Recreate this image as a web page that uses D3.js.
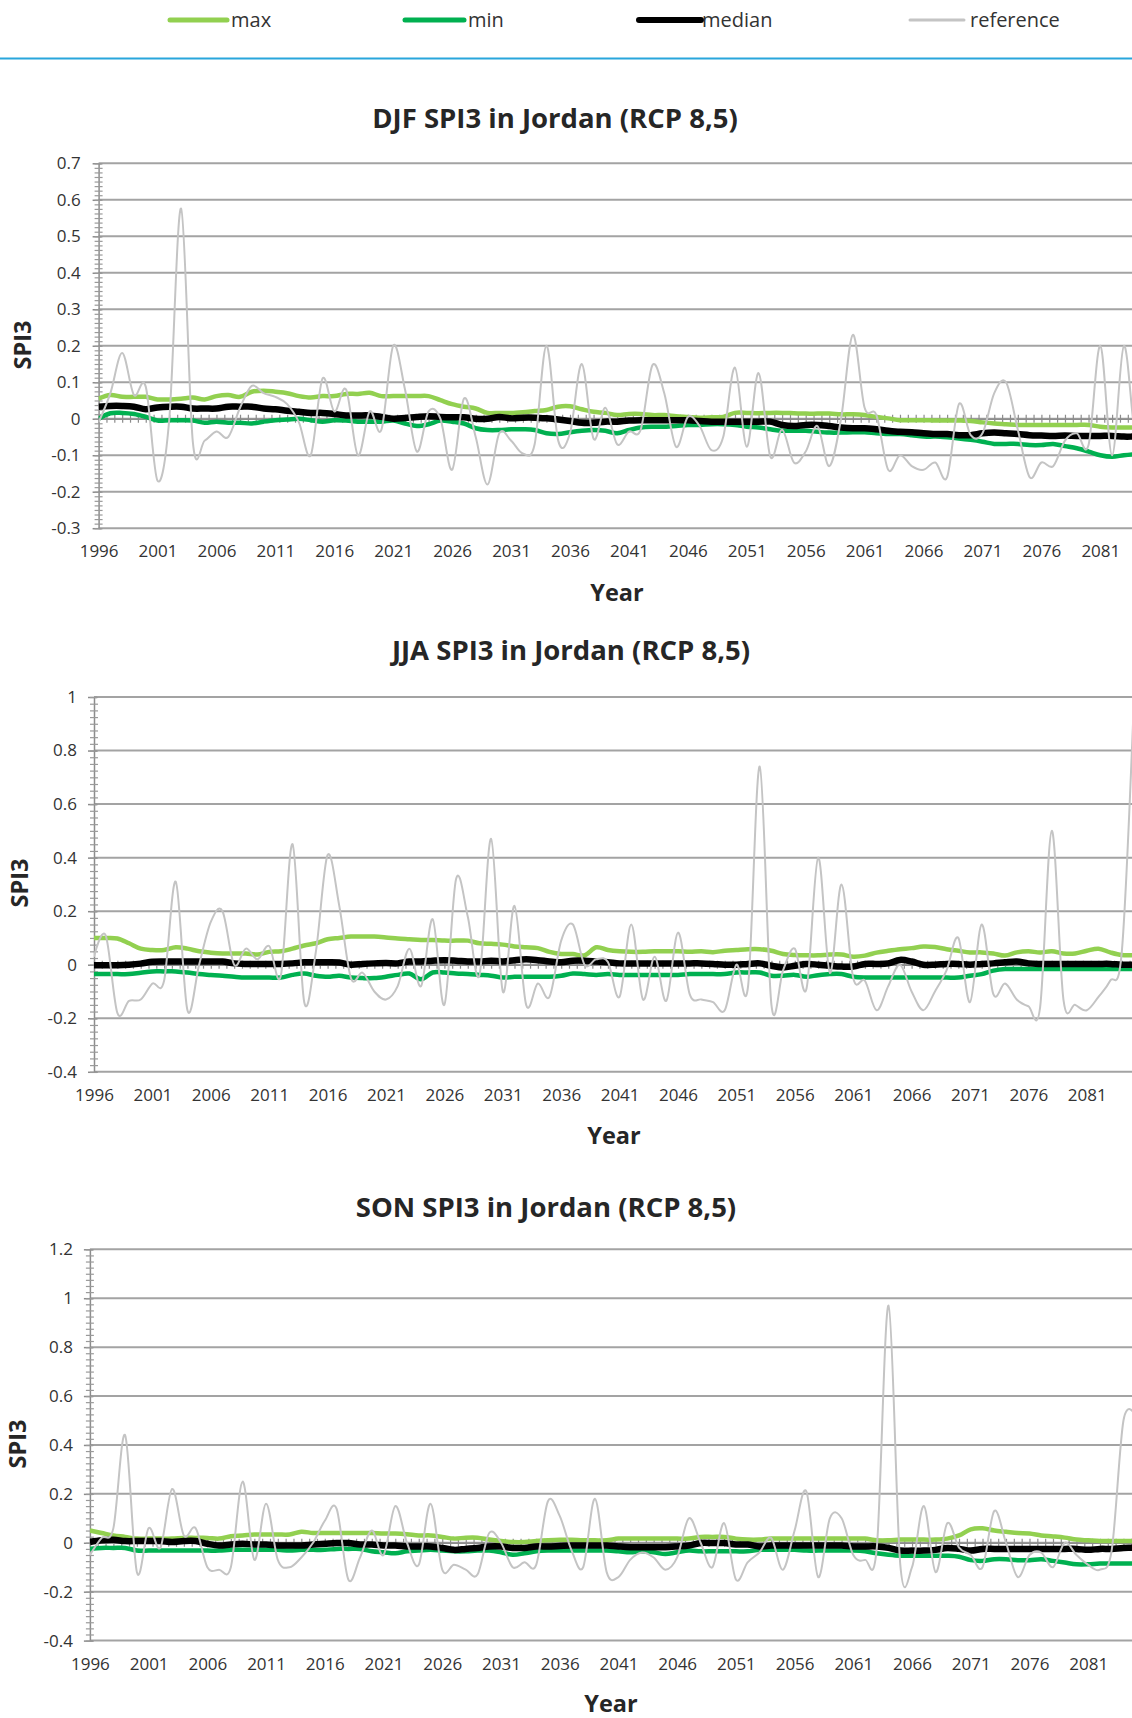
<!DOCTYPE html>
<html><head><meta charset="utf-8">
<script src="https://cdn.jsdelivr.net/npm/d3@7"></script>
<style>body{margin:0;background:#fff}svg{display:block}text{font-family:"Open Sans",Arial,sans-serif}</style>
</head><body>
<svg id="c" width="1132" height="1718"></svg>
<script>
// ---------------- DATA ----------------
const firstYear = 1996, lastYear = 2085;
const years = d3.range(firstYear, lastYear + 1);
const xTickYears = [1996,2001,2006,2011,2016,2021,2026,2031,2036,2041,2046,2051,2056,2061,2066,2071,2076,2081];
const seriesNames = ["max","min","median","reference"];
const djfYTicks = [-0.3,-0.2,-0.1,0,0.1,0.2,0.3,0.4,0.5,0.6,0.7];
const jjaYTicks = [-0.4,-0.2,0,0.2,0.4,0.6,0.8,1];
const sonYTicks = [-0.4,-0.2,0,0.2,0.4,0.6,0.8,1,1.2];

const djfMax = [0.055,0.065,0.06,0.06,0.06,0.053,0.053,0.055,0.058,0.053,
0.062,0.065,0.06,0.074,0.077,0.074,0.07,0.062,0.058,0.062,
0.062,0.068,0.068,0.071,0.062,0.062,0.062,0.062,0.062,0.051,
0.04,0.033,0.028,0.016,0.016,0.016,0.018,0.021,0.024,0.033,
0.034,0.026,0.019,0.016,0.01,0.013,0.013,0.01,0.01,0.007,
0.005,0.003,0.004,0.005,0.016,0.016,0.015,0.016,0.016,0.015,
0.014,0.014,0.014,0.012,0.012,0.01,0.005,0.001,-0.004,-0.004,
-0.004,-0.005,-0.005,-0.005,-0.006,-0.01,-0.013,-0.015,-0.017,-0.017,
-0.017,-0.017,-0.017,-0.017,-0.017,-0.022,-0.024,-0.024,-0.024,-0.024];
const djfMin = [0,0.015,0.016,0.013,0.005,-0.005,-0.004,-0.004,-0.005,-0.011,
-0.008,-0.011,-0.011,-0.013,-0.008,-0.004,-0.002,0,-0.004,-0.008,
-0.004,-0.005,-0.008,-0.008,-0.008,-0.005,-0.013,-0.02,-0.015,-0.005,
-0.008,-0.013,-0.026,-0.031,-0.031,-0.029,-0.029,-0.031,-0.04,-0.042,
-0.037,-0.033,-0.031,-0.033,-0.04,-0.031,-0.024,-0.022,-0.022,-0.02,
-0.017,-0.017,-0.015,-0.015,-0.017,-0.022,-0.024,-0.029,-0.033,-0.033,
-0.033,-0.036,-0.038,-0.038,-0.037,-0.037,-0.04,-0.042,-0.042,-0.045,
-0.049,-0.049,-0.051,-0.054,-0.058,-0.063,-0.069,-0.069,-0.069,-0.072,
-0.072,-0.069,-0.075,-0.081,-0.09,-0.1,-0.104,-0.1,-0.097,-0.095];
const djfMedian = [0.033,0.035,0.035,0.033,0.026,0.031,0.033,0.033,0.028,0.028,
0.028,0.033,0.033,0.033,0.028,0.026,0.022,0.019,0.016,0.016,
0.013,0.009,0.009,0.009,0.005,0,0.002,0.005,0.007,0.005,
0.004,0.004,0,0,0.005,0.001,0.003,0.003,0.001,-0.002,
-0.006,-0.011,-0.011,-0.008,-0.008,-0.005,-0.004,-0.004,-0.004,-0.004,
-0.004,-0.006,-0.008,-0.008,-0.008,-0.008,-0.008,-0.008,-0.017,-0.02,
-0.017,-0.017,-0.02,-0.024,-0.026,-0.026,-0.029,-0.033,-0.036,-0.037,
-0.04,-0.042,-0.042,-0.045,-0.045,-0.04,-0.038,-0.04,-0.042,-0.045,
-0.046,-0.047,-0.046,-0.047,-0.047,-0.047,-0.047,-0.049,-0.049,-0.05];
const djfRef = [-0.01,0.07,0.18,0.065,0.088,-0.17,0.0,0.576,-0.065,-0.06,
-0.035,-0.05,0.03,0.09,0.07,0.06,0.04,-0.01,-0.1,0.11,
0.02,0.08,-0.1,0.02,-0.03,0.2,0.08,-0.09,0.02,0.0,
-0.14,0.055,-0.05,-0.18,-0.04,-0.06,-0.095,-0.07,0.2,-0.06,
-0.04,0.15,-0.055,0.03,-0.07,-0.035,-0.03,0.147,0.07,-0.077,
0.005,-0.02,-0.086,-0.05,0.14,-0.077,0.125,-0.104,-0.03,-0.12,
-0.09,-0.02,-0.13,0.0,0.23,0.03,0.01,-0.14,-0.1,-0.13,
-0.14,-0.12,-0.16,0.04,-0.045,-0.04,0.07,0.1,-0.03,-0.16,
-0.12,-0.13,-0.06,-0.04,-0.072,0.2,-0.1,0.2,-0.05,0.0];

const jjaMax = [0.1,0.1,0.098,0.08,0.06,0.055,0.055,0.065,0.06,0.05,
0.045,0.042,0.042,0.042,0.038,0.048,0.05,0.06,0.072,0.08,
0.095,0.1,0.105,0.105,0.105,0.102,0.098,0.095,0.092,0.092,
0.09,0.09,0.09,0.08,0.078,0.075,0.068,0.065,0.062,0.048,
0.04,0.04,0.035,0.065,0.055,0.05,0.048,0.048,0.05,0.05,
0.05,0.048,0.05,0.047,0.052,0.055,0.058,0.058,0.052,0.04,
0.036,0.035,0.035,0.038,0.038,0.03,0.034,0.045,0.052,0.058,
0.062,0.068,0.066,0.058,0.052,0.046,0.046,0.042,0.034,0.046,
0.05,0.046,0.05,0.042,0.042,0.052,0.06,0.046,0.036,0.036];
const jjaMin = [-0.035,-0.035,-0.035,-0.035,-0.03,-0.025,-0.025,-0.025,-0.029,-0.035,
-0.038,-0.041,-0.045,-0.048,-0.048,-0.048,-0.048,-0.038,-0.033,-0.041,
-0.045,-0.041,-0.048,-0.05,-0.05,-0.045,-0.038,-0.033,-0.054,-0.029,
-0.029,-0.033,-0.035,-0.038,-0.041,-0.048,-0.045,-0.045,-0.045,-0.045,
-0.041,-0.033,-0.035,-0.038,-0.035,-0.038,-0.038,-0.038,-0.038,-0.038,
-0.038,-0.035,-0.035,-0.035,-0.035,-0.029,-0.029,-0.029,-0.041,-0.041,
-0.038,-0.045,-0.039,-0.035,-0.035,-0.045,-0.048,-0.048,-0.048,-0.048,
-0.048,-0.048,-0.048,-0.048,-0.048,-0.041,-0.035,-0.022,-0.016,-0.016,
-0.016,-0.016,-0.016,-0.016,-0.016,-0.016,-0.016,-0.016,-0.016,-0.016];
const jjaMedian = [-0.002,-0.002,-0.002,0,0.004,0.011,0.012,0.012,0.012,0.012,
0.012,0.012,0.005,0.003,0.003,0.003,0.003,0.005,0.009,0.009,
0.009,0.008,0,0.003,0.005,0.006,0.005,0.012,0.012,0.015,
0.017,0.015,0.012,0.012,0.015,0.012,0.017,0.02,0.017,0.012,
0.009,0.015,0.015,0.012,0.009,0.005,0.005,0.005,0.005,0.005,
0.005,0.005,0.005,0.003,0,0,0.003,0.005,-0.004,-0.01,
-0.004,0.003,0,-0.004,-0.007,-0.007,0.003,0.003,0.005,0.018,
0.012,0,0,0.003,0.003,0,0.003,0.005,0.009,0.012,
0.005,0.003,0.003,0.003,0.003,0.003,0.003,0.003,0,0];
const jjaRef = [0.03,0.11,-0.18,-0.135,-0.13,-0.07,-0.06,0.31,-0.17,0.0,
0.16,0.2,0.0,0.06,0.02,0.07,-0.04,0.45,-0.14,0.05,
0.41,0.22,-0.05,-0.03,-0.1,-0.13,-0.08,0.06,-0.08,0.17,
-0.15,0.32,0.18,-0.04,0.47,-0.1,0.22,-0.15,-0.07,-0.12,
0.09,0.15,0.0,0.02,0.01,-0.12,0.15,-0.13,0.03,-0.135,
0.12,-0.11,-0.13,-0.14,-0.17,0.0,-0.08,0.74,-0.15,-0.02,
0.06,-0.09,0.4,-0.03,0.3,-0.05,-0.06,-0.17,-0.08,0.0,
-0.1,-0.17,-0.1,-0.02,0.1,-0.14,0.15,-0.11,-0.07,-0.13,
-0.155,-0.16,0.5,-0.13,-0.15,-0.17,-0.12,-0.06,0.05,0.95];

const sonMax = [0.05,0.04,0.03,0.024,0.017,0.017,0.017,0.017,0.02,0.02,
0.02,0.017,0.027,0.03,0.034,0.034,0.034,0.034,0.045,0.04,
0.04,0.04,0.04,0.04,0.04,0.038,0.038,0.035,0.03,0.03,
0.024,0.017,0.021,0.021,0.013,0.007,0.003,0.003,0.007,0.01,
0.012,0.012,0.01,0.01,0.01,0.017,0.017,0.017,0.017,0.017,
0.017,0.017,0.024,0.024,0.024,0.017,0.013,0.013,0.017,0.017,
0.017,0.017,0.017,0.017,0.017,0.017,0.017,0.01,0.01,0.013,
0.013,0.013,0.013,0.017,0.03,0.055,0.059,0.05,0.045,0.04,
0.038,0.03,0.026,0.021,0.013,0.01,0.007,0.007,0.007,0.007];
const sonMin = [-0.025,-0.021,-0.021,-0.021,-0.032,-0.032,-0.032,-0.032,-0.032,-0.032,
-0.032,-0.032,-0.029,-0.029,-0.029,-0.029,-0.029,-0.032,-0.029,-0.029,
-0.029,-0.025,-0.025,-0.025,-0.035,-0.039,-0.043,-0.035,-0.032,-0.029,
-0.032,-0.035,-0.035,-0.032,-0.032,-0.039,-0.049,-0.043,-0.035,-0.032,
-0.032,-0.032,-0.032,-0.032,-0.032,-0.035,-0.039,-0.035,-0.039,-0.046,
-0.039,-0.032,-0.035,-0.035,-0.035,-0.035,-0.035,-0.029,-0.029,-0.029,
-0.029,-0.032,-0.032,-0.032,-0.032,-0.032,-0.035,-0.043,-0.049,-0.053,
-0.053,-0.053,-0.053,-0.053,-0.057,-0.071,-0.074,-0.067,-0.067,-0.071,
-0.071,-0.067,-0.074,-0.081,-0.088,-0.088,-0.085,-0.085,-0.085,-0.085];
const sonMedian = [0.003,0.01,0.012,0.007,0.007,0.007,0.007,0.003,0.007,0.007,
-0.004,-0.011,-0.007,-0.004,-0.007,-0.007,-0.011,-0.011,-0.011,-0.007,
-0.004,-0.001,-0.001,-0.007,-0.007,-0.011,-0.011,-0.015,-0.015,-0.015,
-0.021,-0.029,-0.025,-0.021,-0.015,-0.015,-0.021,-0.021,-0.015,-0.015,
-0.013,-0.011,-0.011,-0.011,-0.011,-0.015,-0.018,-0.018,-0.018,-0.018,
-0.015,-0.011,-0.001,-0.001,-0.001,-0.007,-0.007,-0.015,-0.011,-0.011,
-0.011,-0.011,-0.011,-0.011,-0.011,-0.015,-0.015,-0.015,-0.021,-0.032,
-0.032,-0.032,-0.029,-0.021,-0.025,-0.032,-0.025,-0.025,-0.025,-0.025,
-0.025,-0.025,-0.025,-0.025,-0.025,-0.029,-0.025,-0.025,-0.021,-0.021];
const sonRef = [-0.05,0.02,0.06,0.44,-0.12,0.06,-0.02,0.22,0.03,0.06,
-0.1,-0.11,-0.1,0.25,-0.07,0.16,-0.07,-0.1,-0.06,0.0,
0.09,0.14,-0.15,-0.06,0.05,-0.05,0.15,0.0,-0.09,0.16,
-0.11,-0.09,-0.11,-0.13,0.04,0.0,-0.1,-0.08,-0.09,0.17,
0.11,-0.03,-0.1,0.18,-0.12,-0.14,-0.07,-0.04,-0.06,-0.11,
-0.06,0.1,0.0,-0.1,0.08,-0.15,-0.08,-0.04,0.02,-0.11,
0.05,0.21,-0.14,0.1,0.1,-0.05,-0.07,-0.02,0.97,-0.09,
-0.1,0.15,-0.12,0.08,-0.02,-0.05,-0.1,0.13,0.0,-0.14,
-0.05,-0.04,-0.1,0.0,-0.05,-0.09,-0.11,-0.03,0.5,0.52];

// ---------------- STYLE / LAYOUT ----------------
const colors = {max:"#92d050", min:"#00b050", median:"#000000", reference:"#c4c4c4"};
const widths = {max:4.5, min:4.5, median:6.5, reference:2};
const W = 1132;
const svg = d3.select("#c");

// legend
const legendLayout = [
  {x1:170,x2:227,tx:231},{x1:405,x2:464,tx:468},{x1:639,x2:701,tx:702},{x1:910,x2:964,tx:970}];
const lg = svg.append("g");
seriesNames.forEach((n,i)=>{
  const L = legendLayout[i];
  lg.append("line").attr("x1",L.x1).attr("x2",L.x2).attr("y1",20).attr("y2",20)
    .attr("stroke",colors[n]).attr("stroke-width", n==="reference"?3:(n==="median"?6:5)).attr("stroke-linecap","round");
  lg.append("text").attr("x",L.tx).attr("y",20).attr("dy","0.35em").attr("font-size",20).attr("fill","#333").text(n);
});
svg.append("line").attr("x1",0).attr("x2",W).attr("y1",58.5).attr("y2",58.5).attr("stroke","#29a6dc").attr("stroke-width",2);

const fmt = d => String(Math.round(d*10)/10);

function drawChart(cfg, idx){
  const g = svg.append("g");
  const x = d3.scaleLinear().domain([1996, 2100]).range([cfg.left, cfg.left + 104*cfg.step]);
  const y = d3.scaleLinear().domain([cfg.yTicks[0], cfg.yTicks[cfg.yTicks.length-1]]).range([cfg.bottom, cfg.top]);
  // gridlines
  g.append("g").selectAll("line").data(cfg.yTicks).join("line")
    .attr("x1", cfg.left).attr("x2", W+5).attr("y1", d=>y(d)).attr("y2", d=>y(d))
    .attr("stroke","#a3a3a3").attr("stroke-width",2);
  // y axis with major ticks
  const ya = g.append("g").attr("transform",`translate(${cfg.left},0)`)
    .call(d3.axisLeft(y).tickValues(cfg.yTicks).tickFormat(fmt).tickSizeInner(6).tickSizeOuter(0).tickPadding(cfg.ypad));
  ya.select(".domain").attr("stroke","#8c8c8c").attr("stroke-width",1.5);
  ya.selectAll(".tick line").attr("stroke","#8c8c8c").attr("stroke-width",1.5).attr("x2",-6).attr("x1",3);
  ya.selectAll(".tick text").attr("font-size",17).attr("fill","#333").attr("font-family","Open Sans");
  // minor y ticks
  const minor = d3.range(cfg.yTicks[0], cfg.yTicks[cfg.yTicks.length-1]+1e-9, cfg.minorStep);
  const ym = g.append("g").attr("transform",`translate(${cfg.left},0)`)
    .call(d3.axisLeft(y).tickValues(minor).tickFormat("").tickSizeInner(4).tickSizeOuter(0));
  ym.select(".domain").remove();
  ym.selectAll(".tick line").attr("stroke","#9a9a9a").attr("stroke-width",1.2).attr("x1",4).attr("x2",-4);
  // x axis at zero with cross ticks
  const xMinor = d3.range(1996, 2100, 2/3);
  const xa = g.append("g").attr("transform",`translate(0,${y(0)})`)
    .call(d3.axisBottom(x).tickValues(xMinor).tickFormat("").tickSizeInner(4).tickSizeOuter(0));
  xa.select(".domain").attr("stroke","#8c8c8c").attr("stroke-width",1.5);
  xa.selectAll(".tick line").attr("stroke","#8c8c8c").attr("stroke-width",1.2).attr("y1",-4).attr("y2",4);
  // x labels at bottom
  const xl = g.append("g").attr("transform",`translate(0,${cfg.bottom})`)
    .call(d3.axisBottom(x).tickValues(xTickYears).tickFormat(d3.format("d")).tickSize(0).tickPadding(cfg.xpad));
  xl.select(".domain").remove();
  xl.selectAll(".tick text").attr("font-size",17).attr("fill","#333").attr("font-family","Open Sans");
  // clip
  const cid = "clip"+idx;
  svg.append("clipPath").attr("id",cid).append("rect")
    .attr("x",cfg.left).attr("y",cfg.top-2).attr("width",W-cfg.left).attr("height",cfg.bottom-cfg.top+4);
  const line = d3.line().x((d,i)=>x(years[i])).y(d=>y(d)).curve(d3.curveCardinal.tension(0));
  const lines = g.append("g").attr("clip-path",`url(#${cid})`);
  seriesNames.forEach(n=>{
    lines.append("path").datum(cfg.data[n]).attr("d",line).attr("fill","none")
      .attr("stroke",colors[n]).attr("stroke-width",widths[n]).attr("stroke-linejoin","round");
  });
  // titles
  g.append("text").attr("x",cfg.titleX).attr("y",cfg.titleY).attr("dy","0.35em").attr("text-anchor","middle")
    .attr("font-size",27.5).attr("font-weight","bold").attr("fill","#262626").text(cfg.title);
  g.append("text").attr("transform",`translate(${cfg.yLabelX},${cfg.yLabelY}) rotate(-90)`).attr("dy","0.35em")
    .attr("text-anchor","middle").attr("font-size",23.5).attr("font-weight","bold").attr("fill","#262626").text("SPI3");
  g.append("text").attr("x",cfg.xTitleX).attr("y",cfg.xTitleY).attr("dy","0.35em").attr("text-anchor","middle")
    .attr("font-size",23.5).attr("font-weight","bold").attr("fill","#262626").text("Year");
}

const charts = [
  {title:"DJF SPI3 in Jordan (RCP 8,5)", titleX:555, titleY:118, left:98.6, step:11.785, top:163.3, bottom:528.2,
   yTicks:djfYTicks, minorStep:0.0125, ypad:12, xpad:17, yLabelX:23, yLabelY:345, xTitleX:617, xTitleY:593,
   data:{max:djfMax,min:djfMin,median:djfMedian,reference:djfRef}},
  {title:"JJA SPI3 in Jordan (RCP 8,5)", titleX:571, titleY:650, left:94, step:11.68, top:697, bottom:1071.8,
   yTicks:jjaYTicks, minorStep:0.025, ypad:11, xpad:17, yLabelX:20, yLabelY:883, xTitleX:614, xTitleY:1136,
   data:{max:jjaMax,min:jjaMin,median:jjaMedian,reference:jjaRef}},
  {title:"SON SPI3 in Jordan (RCP 8,5)", titleX:546, titleY:1207, left:89.9, step:11.745, top:1249.3, bottom:1640.6,
   yTicks:sonYTicks, minorStep:0.025, ypad:11, xpad:17, yLabelX:18, yLabelY:1444, xTitleX:611, xTitleY:1704,
   data:{max:sonMax,min:sonMin,median:sonMedian,reference:sonRef}}
];
charts.forEach((c,i)=>drawChart(c,i));
</script>
</body></html>
